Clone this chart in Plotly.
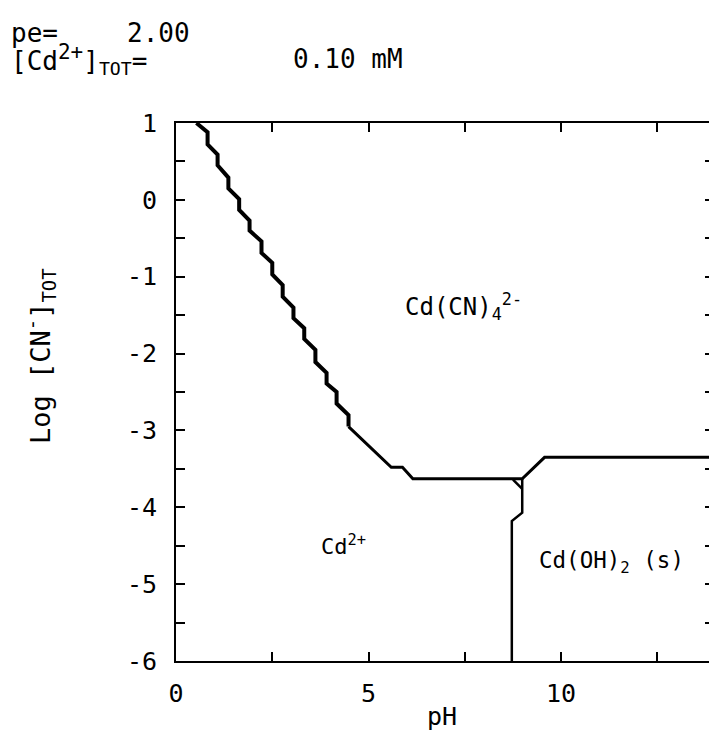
import plotly.graph_objects as go

# Cd(CN)4(2-) / Cd(2+) boundary: staircase segment computed on a coarse grid
cn_step_ph = [0.53, 0.82, 0.82, 1.08, 1.08, 1.36, 1.36, 1.64, 1.64, 1.91, 1.91,
              2.22, 2.22, 2.50, 2.50, 2.77, 2.77, 3.05, 3.05, 3.33, 3.33,
              3.62, 3.62, 3.91, 3.91, 4.17, 4.17, 4.48, 4.48]
cn_step_log = [1.00, 0.88, 0.72, 0.59, 0.45, 0.29, 0.15, 0.01, -0.13, -0.27, -0.40,
               -0.54, -0.69, -0.82, -0.97, -1.11, -1.26, -1.40, -1.54, -1.67, -1.81,
               -1.95, -2.11, -2.25, -2.39, -2.50, -2.65, -2.80, -2.95]

# continuation of the cyanide boundary across to high pH
cn_plateau_ph = [4.48, 5.59, 5.88, 6.15, 8.99, 9.57, 13.84]
cn_plateau_log = [-2.95, -3.48, -3.48, -3.63, -3.63, -3.35, -3.35]

# Cd(2+) / Cd(OH)2(s) boundary
oh_ph = [8.99, 8.99, 8.72, 8.72]
oh_log = [-3.63, -4.07, -4.18, -6.00]

# small closing segment at the triple point
tri_ph = [8.75, 8.99]
tri_log = [-3.64, -3.76]

x_ticks = [0, 5, 10]
x_labels = ["0", "5", "10"]
y_ticks = [1, 0, -1, -2, -3, -4, -5, -6]
y_labels = ["1", "0", "-1", "-2", "-3", "-4", "-5", "-6"]

FONT = "DejaVu Sans Mono"
INK = "black"

fig = go.Figure()
fig.add_trace(go.Scatter(x=cn_step_ph, y=cn_step_log, mode="lines",
                         line=dict(color=INK, width=4), hoverinfo="skip"))
fig.add_trace(go.Scatter(x=cn_plateau_ph, y=cn_plateau_log, mode="lines",
                         line=dict(color=INK, width=3), hoverinfo="skip"))
fig.add_trace(go.Scatter(x=tri_ph, y=tri_log, mode="lines",
                         line=dict(color=INK, width=2.5), hoverinfo="skip"))
# drawn on the right-hand overlay axis so its ticks are rendered
fig.add_trace(go.Scatter(x=oh_ph, y=oh_log, mode="lines", yaxis="y2",
                         line=dict(color=INK, width=2.5), hoverinfo="skip"))

L, T, W, H = 176, 123, 533, 538


def px(xp):
    return (xp - L) / W


def py(yp):
    return (T + H - yp) / H


BIG = '<span style="font-size:21px">'
annotations = [
    dict(text="pe=", x=px(9), y=py(33), xanchor="left", font=dict(size=26)),
    dict(text="2.00", x=px(125), y=py(33), xanchor="left", font=dict(size=26)),
    dict(text="[Cd<sup>" + BIG + "2+</span></sup>]<sub>TOT</sub>=", x=px(9), y=py(59),
         xanchor="left", font=dict(size=26)),
    dict(text="0.10 mM", x=px(291), y=py(59), xanchor="left", font=dict(size=26)),
    dict(text="Cd(CN)<sub>4</sub><sup>2-</sup>", x=px(463), y=py(306), font=dict(size=24)),
    dict(text="Cd<sup>2+</sup>", x=px(343), y=py(545), font=dict(size=22)),
    dict(text="Cd(OH)<sub>2</sub> (s)", x=px(611), y=py(562), font=dict(size=22.5)),
    dict(text="pH", x=px(442), y=py(717), font=dict(size=25)),
    dict(text="Log [CN<sup>-</sup>]<sub>TOT</sub>", x=px(40), y=py(356), textangle=-90,
         font=dict(size=27)),
]
for a in annotations:
    a.update(xref="paper", yref="paper", showarrow=False, yanchor="middle")
    a.setdefault("xanchor", "center")
    a["font"].update(family=FONT, color=INK)

fig.update_layout(
    width=709, height=732,
    margin=dict(l=L, r=709 - L - W, t=T, b=732 - T - H, pad=0),
    paper_bgcolor="white", plot_bgcolor="white",
    showlegend=False,
    font=dict(family=FONT, color=INK),
    annotations=annotations,
    xaxis=dict(range=[0, 13.84], showgrid=False, zeroline=False,
               showline=True, linecolor=INK, linewidth=2, mirror="ticks",
               ticks="inside", ticklen=9, tickwidth=2, tickcolor=INK,
               tickvals=x_ticks, ticktext=x_labels, ticklabelstandoff=9,
               tickfont=dict(size=25, family=FONT, color=INK),
               minor=dict(dtick=2.5, tick0=0, ticks="inside", ticklen=9,
                          tickwidth=2, tickcolor=INK, showgrid=False)),
    yaxis=dict(range=[-6, 1], showgrid=False, zeroline=False,
               showline=True, linecolor=INK, linewidth=2, mirror=False,
               ticks="inside", ticklen=9, tickwidth=2, tickcolor=INK,
               tickvals=y_ticks, ticktext=y_labels, ticklabelstandoff=12,
               tickfont=dict(size=25, family=FONT, color=INK),
               minor=dict(dtick=0.5, tick0=0, ticks="inside", ticklen=9,
                          tickwidth=2, tickcolor=INK, showgrid=False)),
    yaxis2=dict(range=[-6, 1], overlaying="y", side="right", showgrid=False,
                zeroline=False, showline=False, showticklabels=False,
                ticks="inside", ticklen=4, tickwidth=2, tickcolor=INK,
                dtick=0.5, tick0=0),
)

fig.write_html("out.html")
